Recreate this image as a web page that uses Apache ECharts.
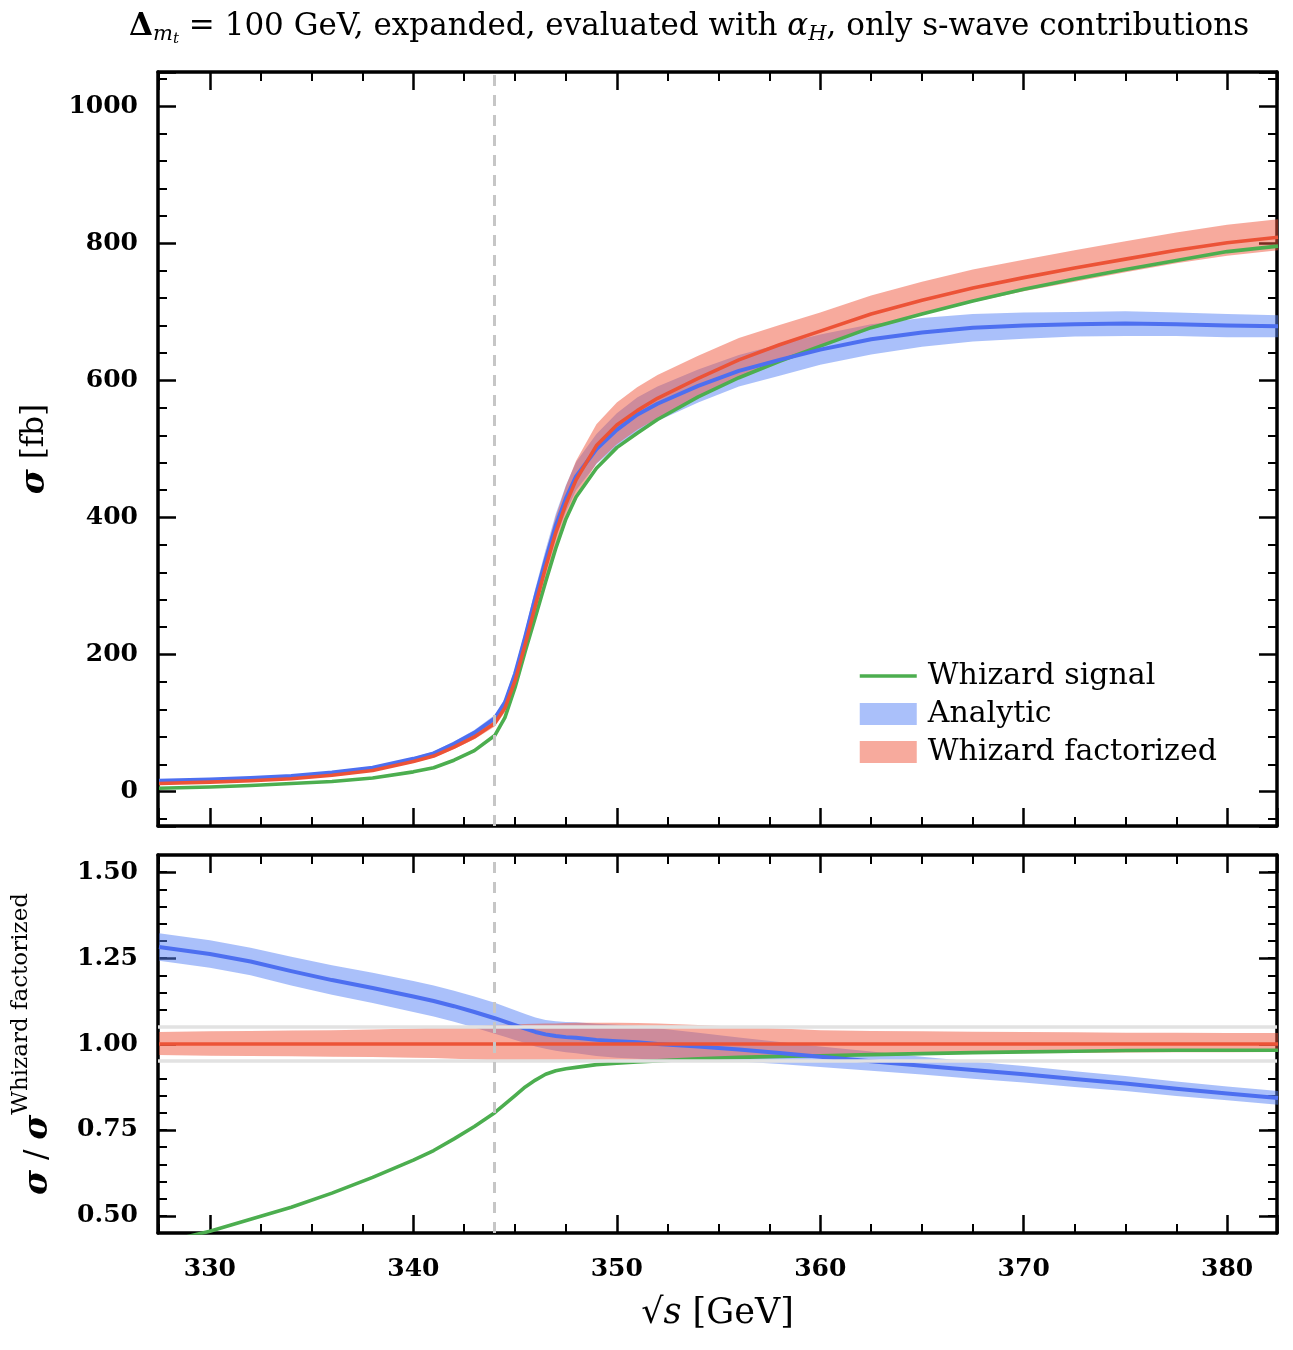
<!DOCTYPE html>
<html>
<head>
<meta charset="utf-8">
<script src="https://cdn.jsdelivr.net/npm/echarts@6/dist/echarts.min.js"></script>
<style>
  html, body { margin: 0; padding: 0; background: #fff; }
  #chart { width: 1293px; height: 1350px; }
</style>
</head>
<body>
<div id="chart"></div>
<script>
// sqrt(s) grid in GeV
const energies = [327.5, 330, 332, 334, 336, 338, 340, 341, 342, 343, 344, 344.5, 345, 345.5, 346, 346.5, 347, 347.5,
  348, 349, 350, 351, 352, 354, 356, 358, 360, 362.5, 365, 367.5, 370, 372.5, 375, 377.5, 380, 382.5];

// upper panel: sigma [fb]
const whizardSignal = [5, 7, 9, 12, 15, 20, 29, 35, 46, 60, 82, 108, 152, 205, 255, 306, 355, 398,
  430, 472, 502, 523, 543, 576, 604, 628, 650, 677, 697, 716, 733, 748, 762, 775, 788, 796];
const analytic = [16, 18, 20, 23, 28, 35, 48, 56, 70, 86, 107, 130, 172, 226, 284, 338, 388, 428,
  460, 500, 528, 550, 566, 592, 614, 630, 645, 660, 670, 677, 680, 682, 683, 682, 680, 679];
const analyticLo = [15.4, 17.3, 19.2, 22, 26.8, 33.4, 45.8, 53.4, 66.8, 82.1, 102, 124, 164, 216, 271, 323, 371, 409,
  440, 478, 504, 525, 541, 568, 591, 607, 623, 638, 649, 657, 661, 664, 665, 665, 663, 663];
const analyticHi = [16.6, 18.7, 20.8, 24, 29.2, 36.6, 50.2, 58.6, 73.2, 89.9, 112, 136, 180, 236, 297, 353, 405, 447,
  481, 522, 552, 575, 591, 616, 637, 653, 667, 682, 691, 697, 699, 700, 701, 699, 697, 695];
const whizardFact = [12, 14, 16, 19, 24, 31, 44, 52, 65, 80, 100, 122, 162, 215, 272, 327, 378, 420,
  455, 505, 535, 556, 574, 603, 630, 652, 672, 697, 717, 735, 750, 764, 777, 790, 801, 809];
const whizardFactLo = [11.6, 13.5, 15.4, 18.3, 23.1, 29.8, 42.2, 49.9, 62.2, 76.4, 95.3, 116, 154, 204, 258, 310, 359, 398,
  431, 479, 507, 528, 545, 575, 604, 627, 649, 675, 696, 714, 730, 744, 758, 771, 782, 790];
const whizardFactHi = [12.4, 14.5, 16.6, 19.7, 25, 32.3, 46, 54.4, 68.2, 84.2, 105.5, 129, 171, 227, 288, 347, 401, 446,
  483, 536, 568, 590, 608, 636, 662, 681, 699, 724, 744, 762, 776, 790, 803, 816, 827, 835];

// lower panel: ratio to Whizard factorized
const ratioSignal = [0.42, 0.455, 0.49, 0.525, 0.566, 0.612, 0.662, 0.69, 0.724, 0.76, 0.80, 0.825, 0.85, 0.875, 0.895, 0.912, 0.922, 0.928,
  0.932, 0.94, 0.944, 0.948, 0.951, 0.957, 0.961, 0.964, 0.966, 0.969, 0.972, 0.975, 0.977, 0.979, 0.981, 0.982, 0.982, 0.982];
const ratioAnalytic = [1.282, 1.262, 1.24, 1.212, 1.186, 1.163, 1.138, 1.125, 1.11, 1.093, 1.075, 1.065, 1.055, 1.045, 1.035, 1.028, 1.023, 1.02,
  1.018, 1.012, 1.008, 1.005, 1.0, 0.993, 0.984, 0.974, 0.963, 0.95, 0.937, 0.924, 0.912, 0.898, 0.885, 0.87, 0.856, 0.843];
const ratioAnalyticLo = [1.242, 1.222, 1.200, 1.170, 1.143, 1.119, 1.093, 1.080, 1.065, 1.048, 1.030, 1.021, 1.012, 1.003, 0.993, 0.986, 0.980, 0.976,
  0.973, 0.965, 0.960, 0.957, 0.954, 0.953, 0.949, 0.942, 0.933, 0.922, 0.911, 0.899, 0.888, 0.875, 0.863, 0.849, 0.836, 0.823];
const ratioAnalyticHi = [1.322, 1.302, 1.280, 1.254, 1.229, 1.207, 1.183, 1.170, 1.155, 1.138, 1.120, 1.109, 1.098, 1.087, 1.077, 1.070, 1.066, 1.064,
  1.063, 1.059, 1.056, 1.053, 1.046, 1.033, 1.019, 1.006, 0.993, 0.978, 0.963, 0.949, 0.936, 0.921, 0.907, 0.891, 0.876, 0.863];
const ratioFact = [1, 1, 1, 1, 1, 1, 1, 1, 1, 1, 1, 1, 1, 1, 1, 1, 1, 1,
  1, 1, 1, 1, 1, 1, 1, 1, 1, 1, 1, 1, 1, 1, 1, 1, 1, 1];
const ratioFactLo = [0.968, 0.966, 0.965, 0.964, 0.963, 0.962, 0.96, 0.959, 0.957, 0.955, 0.953, 0.952, 0.951, 0.95, 0.95, 0.949, 0.949, 0.948,
  0.948, 0.948, 0.948, 0.949, 0.95, 0.954, 0.958, 0.962, 0.966, 0.969, 0.971, 0.972, 0.973, 0.974, 0.975, 0.976, 0.976, 0.977];
const ratioFactHi = [1.035, 1.037, 1.038, 1.039, 1.04, 1.042, 1.045, 1.047, 1.049, 1.052, 1.055, 1.056, 1.057, 1.058, 1.059, 1.06, 1.06, 1.061,
  1.062, 1.062, 1.062, 1.061, 1.06, 1.055, 1.05, 1.045, 1.04, 1.038, 1.037, 1.036, 1.035, 1.034, 1.033, 1.033, 1.032, 1.032];

const ratioTicks = [0.5, 0.75, 1.0, 1.25, 1.5];
const ratioGuides = [0.95, 1.05];
const thresholdEnergy = 344;

const GREEN = '#4cae4f';
const BLUE = '#4d6ff0';
const BLUE_BAND = 'rgba(85,130,245,0.5)';
const RED = '#ec5337';
const RED_BAND = 'rgba(240,85,60,0.5)';
const FONT = 'DejaVu Serif';

const chart = echarts.init(document.getElementById('chart'));

const pairs = arr => energies.map((x, i) => [x, arr[i]]);

// filled band between lo and hi, drawn through the axes with api.coord
function band(name, lo, hi, color, xi, yi) {
  return {
    type: 'custom',
    name: name,
    xAxisIndex: xi,
    yAxisIndex: yi,
    silent: true,
    itemStyle: { color: color },
    data: [[energies[0], lo[0]]],
    renderItem: function (params, api) {
      const pts = [];
      for (let i = 0; i < energies.length; i++) pts.push(api.coord([energies[i], hi[i]]));
      for (let i = energies.length - 1; i >= 0; i--) pts.push(api.coord([energies[i], lo[i]]));
      return { type: 'polygon', shape: { points: pts }, style: { fill: color } };
    }
  };
}

function line(name, arr, color, width, xi, yi, extra) {
  return Object.assign({
    type: 'line',
    name: name,
    xAxisIndex: xi,
    yAxisIndex: yi,
    data: pairs(arr),
    symbol: 'none',
    silent: true,
    clip: true,
    lineStyle: { color: color, width: width, join: 'round' },
    itemStyle: { color: color }
  }, extra || {});
}

const tickLabel = { fontFamily: FONT, fontWeight: 'bold', fontSize: 25, color: '#000' };
const axisLine = { show: true, onZero: false, lineStyle: { color: '#000', width: 3.5 } };

function xAxis(gridIndex, position, labels, extra) {
  return Object.assign({
    type: 'value', gridIndex: gridIndex, position: position,
    min: 327.45, max: 382.45, splitNumber: 5,
    axisLine: axisLine,
    axisTick: { show: true, inside: true, length: 18, lineStyle: { color: '#000', width: 2.5 } },
    minorTick: { show: true, splitNumber: 4, length: 9, lineStyle: { color: '#000', width: 2 } },
    axisLabel: Object.assign({ show: labels, showMinLabel: false, showMaxLabel: false, margin: 24,
      formatter: v => String(v) }, tickLabel),
    splitLine: { show: false }
  }, extra || {});
}

function ySigma(position, labels, extra) {
  return Object.assign({
    type: 'value', gridIndex: 0, position: position,
    min: -50, max: 1050, splitNumber: 5,
    axisLine: axisLine,
    axisTick: { show: true, inside: true, length: 18, lineStyle: { color: '#000', width: 2.5 } },
    minorTick: { show: true, splitNumber: 5, length: 9, lineStyle: { color: '#000', width: 2 } },
    axisLabel: Object.assign({ show: labels, showMinLabel: false, showMaxLabel: false, margin: 20,
      formatter: v => String(v) }, tickLabel),
    splitLine: { show: false }
  }, extra || {});
}

// ratio axis: minor ticks every 0.05 from the scale, major ticks/labels at custom values
function yRatioMinor(position, labels, extra) {
  return Object.assign({
    type: 'value', gridIndex: 1, position: position,
    min: 0.45, max: 1.55, interval: 0.05,
    axisLine: axisLine,
    axisTick: { show: true, inside: true, length: 9, lineStyle: { color: '#000', width: 2 } },
    axisLabel: Object.assign({
      show: labels, margin: 20, customValues: ratioTicks,
      formatter: v => Number(v).toFixed(2)
    }, tickLabel),
    splitLine: { show: false }
  }, extra || {});
}
function yRatioMajor(position) {
  return {
    type: 'value', gridIndex: 1, position: position,
    min: 0.45, max: 1.55, interval: 0.05,
    axisLine: { show: false },
    axisTick: { show: true, inside: true, length: 18, customValues: ratioTicks, lineStyle: { color: '#000', width: 2.5 } },
    axisLabel: { show: false },
    splitLine: { show: false }
  };
}

const titleTok = { fontFamily: FONT, fontWeight: 'normal', color: '#000', lineHeight: 40 };

const option = {
  backgroundColor: '#fff',
  animation: false,
  title: {
    text: '{d|Δ}{s|m}{ss|t}{n| = 100 GeV, expanded, evaluated with }{a|α}{s|H}{n|, only s-wave contributions}',
    left: 124,
    top: 2,
    textStyle: {
      fontWeight: 'normal',
      rich: {
        n: Object.assign({ fontSize: 31 }, titleTok),
        d: Object.assign({}, titleTok, { fontSize: 31, fontWeight: 'bold' }),
        a: Object.assign({ fontSize: 31, fontStyle: 'italic' }, titleTok),
        s: Object.assign({ fontSize: 21, fontStyle: 'italic', padding: [16, 0, 0, 0] }, titleTok),
        ss: Object.assign({ fontSize: 15, fontStyle: 'italic', padding: [24, 0, 0, 0] }, titleTok)
      }
    }
  },
  legend: {
    data: [
      { name: 'Whizard signal', itemStyle: { opacity: 0 }, lineStyle: { width: 3.5 } },
      { name: 'Analytic', icon: 'rect' },
      { name: 'Whizard factorized', icon: 'rect' }
    ],
    orient: 'vertical',
    left: 853,
    top: 656,
    itemWidth: 57,
    itemHeight: 22,
    itemGap: 8,
    selectedMode: false,
    textStyle: { fontFamily: FONT, fontSize: 30, color: '#000', padding: [0, 0, 0, 6] }
  },
  grid: [
    { left: 158, right: 16, top: 72, height: 754, outerBoundsMode: 'none' },
    { left: 158, right: 16, top: 855, height: 378, outerBoundsMode: 'none' }
  ],
  xAxis: [
    xAxis(0, 'bottom', false),
    xAxis(0, 'top', false),
    xAxis(1, 'bottom', true, {
      name: '√{i|s} [GeV]',
      nameLocation: 'middle',
      nameGap: 63,
      nameTextStyle: {
        fontFamily: FONT, fontSize: 35, color: '#000',
        rich: { i: { fontFamily: FONT, fontSize: 35, fontStyle: 'italic', color: '#000' } }
      }
    }),
    xAxis(1, 'top', false)
  ],
  yAxis: [
    ySigma('left', true, {
      name: '{b|σ} [fb]',
      nameLocation: 'middle',
      nameRotate: 90,
      nameGap: 106,
      nameTextStyle: {
        fontFamily: FONT, fontSize: 31, color: '#000',
        rich: { b: { fontFamily: FONT, fontSize: 34, fontWeight: 'bold', fontStyle: 'italic', color: '#000' } }
      }
    }),
    ySigma('right', false),
    yRatioMinor('left', true, {
      name: '{b|σ}{n| / }{b|σ}{sup|Whizard factorized}',
      nameLocation: 'middle',
      nameRotate: 90,
      nameGap: 86,
      nameTextStyle: {
        fontFamily: FONT, fontSize: 31, color: '#000',
        rich: {
          b: { fontFamily: FONT, fontSize: 34, fontWeight: 'bold', fontStyle: 'italic', color: '#000', lineHeight: 64 },
          n: { fontFamily: FONT, fontSize: 31, color: '#000', lineHeight: 64 },
          sup: { fontFamily: FONT, fontSize: 23, color: '#000', lineHeight: 64, padding: [0, 0, 34, 0] }
        }
      }
    }),
    yRatioMinor('right', false),
    yRatioMajor('left'),
    yRatioMajor('right')
  ],
  series: [
    // upper panel
    line('Whizard signal', whizardSignal, GREEN, 3.6, 0, 0),
    band('Analytic', analyticLo, analyticHi, BLUE_BAND, 0, 0),
    line('Analytic line', analytic, BLUE, 4, 0, 0),
    band('Whizard factorized', whizardFactLo, whizardFactHi, RED_BAND, 0, 0),
    line('Whizard factorized line', whizardFact, RED, 3.6, 0, 0, {
      markLine: {
        silent: true, symbol: ['none', 'none'], label: { show: false },
        lineStyle: { color: '#c6c6c6', type: [11, 9], width: 3 },
        data: [{ xAxis: thresholdEnergy }]
      }
    }),
    // lower panel
    line('ratio guides', ratioFact, 'rgba(0,0,0,0)', 0, 2, 2, {
      lineStyle: { opacity: 0 },
      markLine: {
        silent: true, symbol: ['none', 'none'], label: { show: false },
        lineStyle: { color: '#e2e2e2', type: 'solid', width: 3.5 },
        data: ratioGuides.map(v => ({ yAxis: v }))
      }
    }),
    line('ratio signal', ratioSignal, GREEN, 3.6, 2, 2),
    band('ratio analytic band', ratioAnalyticLo, ratioAnalyticHi, BLUE_BAND, 2, 2),
    line('ratio analytic', ratioAnalytic, BLUE, 4, 2, 2),
    band('ratio factorized band', ratioFactLo, ratioFactHi, RED_BAND, 2, 2),
    line('ratio factorized', ratioFact, RED, 3.6, 2, 2, {
      markLine: {
        silent: true, symbol: ['none', 'none'], label: { show: false },
        lineStyle: { color: '#c6c6c6', type: [11, 9], width: 3 },
        data: [{ xAxis: thresholdEnergy }]
      }
    })
  ]
};

chart.setOption(option);
</script>
</body>
</html>
